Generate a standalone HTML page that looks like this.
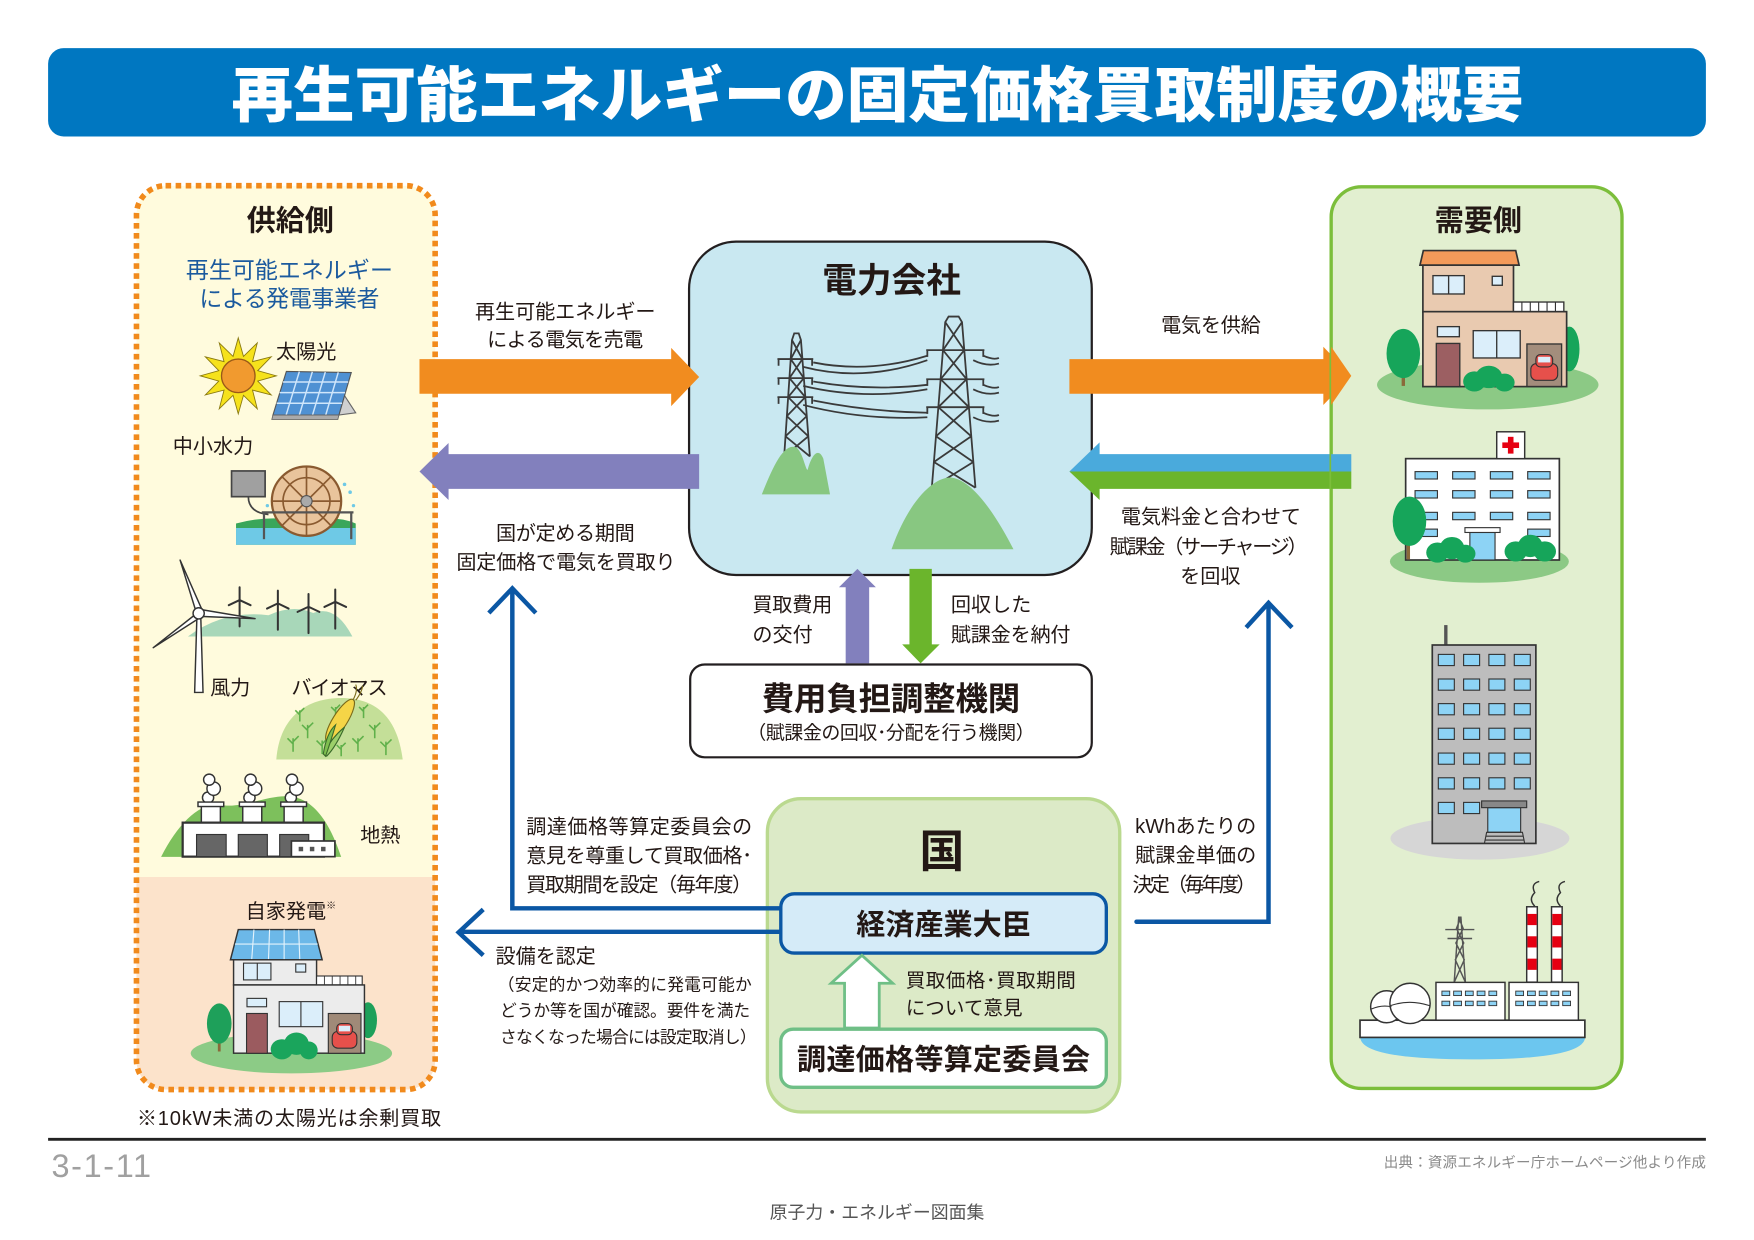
<!DOCTYPE html>
<html><head><meta charset="utf-8">
<style>
html,body{margin:0;padding:0;background:#fff;}
svg{display:block;}
text{font-family:"Liberation Sans","Noto Sans CJK JP",sans-serif;fill:#231815;}
</style></head><body>
<svg width="1754" height="1240" viewBox="0 0 1568 1108.5" xmlns="http://www.w3.org/2000/svg">
<rect x="0" y="0" width="1568" height="1108.5" fill="#fff"/>

<!-- Title -->
<rect x="43" y="43" width="1482" height="79" rx="14" fill="#0077c1"/>
<text x="207" y="104" font-size="54" font-weight="900" style="fill:#fff" textLength="1155" lengthAdjust="spacingAndGlyphs">再生可能エネルギーの固定価格買取制度の概要</text>

<!-- Supply side box -->
<rect x="122" y="166" width="267" height="808" rx="26" fill="#fffbdd"/>
<path d="M122,784 H389 V948 A26,26 0 0 1 363,974 H148 A26,26 0 0 1 122,948 Z" fill="#fce3cb"/>
<rect x="122" y="166" width="267" height="808" rx="26" fill="none" stroke="#f18a1c" stroke-width="5" stroke-dasharray="5 4"/>
<text x="259.5" y="206" font-size="26" font-weight="700" text-anchor="middle">供給側</text>
<text x="258.7" y="248.3" font-size="20.5" text-anchor="middle" style="fill:#1b5a9e" textLength="185">再生可能エネルギー</text>
<text x="258.7" y="273.8" font-size="20.5" text-anchor="middle" style="fill:#1b5a9e" textLength="161">による発電事業者</text>

<!-- Sun -->
<polygon points="213,302 217.66,318.6 230,306.55 225.73,323.27 242.44,319 230.39,331.34 247,336 230.39,340.66 242.44,353 225.73,348.73 230,365.44 217.66,353.39 213,370 208.34,353.39 196,365.44 200.27,348.73 183.56,353 195.61,340.66 179,336 195.61,331.34 183.56,319 200.27,323.27 196,306.56 208.34,318.61" fill="#f6e21c" stroke="#8a7a10" stroke-width="0.8"/>
<circle cx="213" cy="336" r="15" fill="#f19a2f" stroke="#9a5a18" stroke-width="1.2"/>
<text x="246.7" y="320.5" font-size="18">太陽光</text>
<!-- Solar panel -->
<polygon points="303,346 318,369 303,371" fill="#d0d0d0" stroke="#666" stroke-width="1"/>
<polygon points="256,332 314,333 303,371 244,371" fill="#4f91d3" stroke="#555" stroke-width="1"/>
<g stroke="#cfe6fb" stroke-width="1.3">
<line x1="253" y1="341.5" x2="311.3" y2="341.5"/><line x1="250" y1="351" x2="308.5" y2="351"/><line x1="247.3" y1="360.5" x2="305.8" y2="360.5"/>
<line x1="267.6" y1="332.2" x2="255.8" y2="371"/><line x1="279.2" y1="332.4" x2="267.6" y2="371"/><line x1="290.8" y1="332.6" x2="279.4" y2="371"/><line x1="302.4" y1="332.8" x2="291.2" y2="371"/>
</g>
<polygon points="244,371 303,371 302,375 243,375" fill="#aaa" stroke="#666" stroke-width="0.8"/>

<!-- Small hydro -->
<text x="154.4" y="404.8" font-size="18">中小水力</text>
<path d="M222,444 Q222,458 240,460" fill="none" stroke="#444" stroke-width="1.5"/>
<rect x="207" y="421" width="30" height="23" fill="#a0a0a0" stroke="#444" stroke-width="1.5"/>
<path d="M211,487 V468 Q240,460 270,466 Q300,460 318,468 V487 Z" fill="#3aa65a"/>
<rect x="211" y="472" width="107" height="15" fill="#6ec9e6"/>
<circle cx="274" cy="448" r="31" fill="#e9c49c" stroke="#8a5a30" stroke-width="2"/>
<circle cx="274" cy="448" r="21" fill="none" stroke="#8a5a30" stroke-width="1.5"/>
<g stroke="#8a5a30" stroke-width="1.5">
<line x1="274" y1="417" x2="274" y2="479"/><line x1="243" y1="448" x2="305" y2="448"/><line x1="252" y1="426" x2="296" y2="470"/><line x1="296" y1="426" x2="252" y2="470"/>
</g>
<circle cx="274" cy="448" r="5" fill="#aaa" stroke="#555"/>
<g stroke="#555" stroke-width="2" fill="none">
<line x1="234" y1="458" x2="316" y2="458"/><line x1="236" y1="458" x2="236" y2="482"/><line x1="314" y1="458" x2="314" y2="482"/>
</g>
<g fill="#6ec9e6"><circle cx="308" cy="433" r="1.6"/><circle cx="313" cy="440" r="1.6"/><circle cx="239" cy="452" r="1.5"/><circle cx="316" cy="452" r="1.5"/></g>

<!-- Wind -->
<path d="M168,569 Q200,545 240,550 Q262,540 280,548 Q300,540 315,569 Z" fill="#a8d7b9"/>
<g stroke="#333" stroke-width="1.8" fill="none" stroke-linecap="round">
<path d="M214.2,536.4 V560 M214.2,536.4 V525 M214.2,536.4 L224,541 M214.2,536.4 L204.5,541"/>
<path d="M248.4,539.4 V563 M248.4,539.4 V528 M248.4,539.4 L258,544 M248.4,539.4 L238.7,544"/>
<path d="M275.8,542.4 V566 M275.8,542.4 V531 M275.8,542.4 L285.5,547 M275.8,542.4 L266,547"/>
<path d="M299.7,538 V562 M299.7,538 V527 M299.7,538 L309.4,542.6 M299.7,538 L290,542.6"/>
</g>
<polygon points="174,619 176,552 179.5,552 181.5,619" fill="#fff" stroke="#333" stroke-width="1.3"/>
<g fill="#fff" stroke="#333" stroke-width="1.3" stroke-linejoin="round">
<polygon points="175,546 161,500.7 181,546"/>
<polygon points="180,545 228,553 179,551"/>
<polygon points="175,549 137,579 179,552"/>
</g>
<circle cx="177.6" cy="548.3" r="5" fill="#fff" stroke="#333" stroke-width="1.3"/>
<text x="187.8" y="620.8" font-size="18">風力</text>
<text x="260.5" y="620.8" font-size="18" textLength="86">バイオマス</text>

<!-- Biomass -->
<path d="M247,679 C250,640 275,624 305,624 C335,624 355,640 360,679 Z" fill="#c4df98"/>
<g stroke="#5fb04a" stroke-width="1.4" fill="none">
<path d="M262,672 v-12 m0,5 l-5,-5 m5,3 l5,-5"/><path d="M275,660 v-12 m0,5 l-5,-5 m5,3 l5,-5"/><path d="M288,674 v-12 m0,5 l-5,-5 m5,3 l5,-5"/>
<path d="M320,672 v-12 m0,5 l-5,-5 m5,3 l5,-5"/><path d="M335,660 v-12 m0,5 l-5,-5 m5,3 l5,-5"/><path d="M345,675 v-12 m0,5 l-5,-5 m5,3 l5,-5"/>
<path d="M300,642 v-10 m0,4 l-4,-4 m4,2 l4,-4"/><path d="M325,642 v-10 m0,4 l-4,-4 m4,2 l4,-4"/><path d="M268,645 v-10 m0,4 l-4,-4 m4,2 l4,-4"/><path d="M305,676 v-10 m0,4 l-4,-4 m4,2 l4,-4"/>
</g>
<ellipse cx="304" cy="644" rx="22" ry="6.5" transform="rotate(-58 304 644)" fill="#f5d547" stroke="#7a6a1a" stroke-width="1"/>
<path d="M289,674 Q296,660 308,650 Q300,668 292,676 Z" fill="#9ccf6a" stroke="#3a6a2a" stroke-width="1"/>
<path d="M289,674 Q292,655 300,648 Q295,665 291,676 Z" fill="#7fbf50" stroke="#3a6a2a" stroke-width="1"/>
<path d="M316,625 Q320,617 318,612 M318,626 Q324,618 324,613" stroke="#7a6a1a" stroke-width="1" fill="none"/>

<!-- Geothermal -->
<path d="M144,766 C160,735 180,715 200,720 C220,722 240,710 260,712 C285,715 298,745 305,766 Z" fill="#7dc05c"/>
<g fill="#fff" stroke="#333" stroke-width="1.3">
<circle cx="186" cy="713" r="5"/><circle cx="191" cy="705" r="6"/><circle cx="187" cy="697" r="5"/>
<circle cx="223" cy="713" r="5"/><circle cx="228" cy="705" r="6"/><circle cx="224" cy="697" r="5"/>
<circle cx="260" cy="713" r="5"/><circle cx="265" cy="705" r="6"/><circle cx="261" cy="697" r="5"/>
<rect x="180" y="720" width="17" height="16"/><rect x="177" y="717" width="23" height="4"/>
<rect x="217" y="720" width="17" height="16"/><rect x="214" y="717" width="23" height="4"/>
<rect x="254" y="720" width="17" height="16"/><rect x="251" y="717" width="23" height="4"/>
<rect x="163.3" y="735.4" width="126.3" height="30.4" stroke-width="2"/>
</g>
<g fill="#666" stroke="#333" stroke-width="1"><rect x="175.7" y="746" width="26.5" height="19.8"/><rect x="213" y="746" width="26" height="19.8"/><rect x="250" y="746" width="26" height="19.8"/></g>
<rect x="260.5" y="751.8" width="38.9" height="14" fill="#fff" stroke="#333" stroke-width="1.5"/>
<g fill="#555"><rect x="267" y="757" width="4" height="4"/><rect x="277" y="757" width="4" height="4"/><rect x="287" y="757" width="4" height="4"/></g>
<text x="322" y="752.8" font-size="18">地熱</text>

<!-- Self generation house -->
<text x="219.6" y="820.8" font-size="18">自家発電<tspan font-size="9" dy="-8">※</tspan></text>
<ellipse cx="260.5" cy="941.6" rx="90" ry="18" fill="#8ccb86"/>
<path d="M196,940 V925" stroke="#8a6a3a" stroke-width="2.5"/>
<ellipse cx="196" cy="915" rx="11" ry="18" fill="#1ea05a"/>
<ellipse cx="329" cy="912" rx="8" ry="16" fill="#1ea05a"/>
<polygon points="213,831 281,831 288,858 206,858" fill="#6cb8e8" stroke="#333" stroke-width="1.3"/>
<g stroke="#e4f3fc" stroke-width="1"><line x1="210" y1="844" x2="284" y2="844"/><line x1="227" y1="831" x2="225" y2="858"/><line x1="241" y1="831" x2="240" y2="858"/><line x1="254" y1="831" x2="254" y2="858"/><line x1="267" y1="831" x2="268" y2="858"/></g>
<rect x="208.8" y="858" width="74.2" height="22.5" fill="#ececec" stroke="#333" stroke-width="1.3"/>
<rect x="217.7" y="861" width="24.5" height="15" fill="#dbeefa" stroke="#333" stroke-width="1"/>
<line x1="230" y1="861" x2="230" y2="876" stroke="#333" stroke-width="1"/>
<rect x="264.4" y="861.7" width="8.9" height="7.3" fill="#dbeefa" stroke="#333" stroke-width="1"/>
<rect x="283" y="872.5" width="40.8" height="8" fill="#fff" stroke="#333" stroke-width="1"/>
<g stroke="#333" stroke-width="0.8"><line x1="290" y1="872.5" x2="290" y2="880.5"/><line x1="297" y1="872.5" x2="297" y2="880.5"/><line x1="304" y1="872.5" x2="304" y2="880.5"/><line x1="311" y1="872.5" x2="311" y2="880.5"/><line x1="318" y1="872.5" x2="318" y2="880.5"/></g>
<rect x="208.8" y="880.5" width="117" height="61" fill="#ececec" stroke="#333" stroke-width="1.3"/>
<rect x="220.8" y="892.5" width="17.5" height="7.5" fill="#dbeefa" stroke="#333" stroke-width="1"/>
<rect x="220.4" y="906" width="18.6" height="35.6" fill="#9b5b5f" stroke="#333" stroke-width="1"/>
<rect x="249.6" y="895.4" width="38.9" height="22.4" fill="#dbeefa" stroke="#333" stroke-width="1"/>
<line x1="269" y1="895.4" x2="269" y2="917.8" stroke="#333" stroke-width="1"/>
<rect x="293.5" y="906" width="29.2" height="35.6" fill="#a08a78" stroke="#333" stroke-width="1"/>
<rect x="297" y="922" width="22" height="15" rx="5" fill="#e6504b" stroke="#333" stroke-width="1"/>
<rect x="301" y="915" width="14" height="10" rx="4" fill="#e6504b" stroke="#333" stroke-width="1"/>
<rect x="303" y="917" width="10" height="5" fill="#dbeefa"/>
<g fill="#1aa55c"><ellipse cx="252" cy="938" rx="10" ry="9"/><ellipse cx="265" cy="933" rx="11" ry="10"/><ellipse cx="276" cy="939" rx="8" ry="8"/></g>
<text x="122.4" y="1005.8" font-size="18" textLength="272">※10kW未満の太陽光は余剰買取</text>

<!-- Electric company box -->
<rect x="616" y="216" width="360" height="298" rx="42" fill="#c9e8f1" stroke="#231f20" stroke-width="2"/>
<text x="797" y="261.5" font-size="31" font-weight="700" text-anchor="middle">電力会社</text>
<!-- towers -->
<g stroke="#3a3a3a" stroke-width="1.6" fill="none">
<path d="M701,408 L708,304 L710,298 L714,298 L716,304 L724,408"/>
<path d="M708,304 L717.3,321 M716,304 L706.9,321 M706.9,321 L718.6,338 M717.3,321 L705.7,338 M705.7,338 L719.9,355 M718.6,338 L704.6,355 M704.6,355 L721.2,372 M719.9,355 L703.4,372 M703.4,372 L722.6,390 M721.2,372 L702.2,390 M702.2,390 L724,408 M722.6,390 L701,408"/>
<path d="M695,321 H727 M696,321 v6 M726,321 v6 M695,338 H727 M696,338 v6 M726,338 v6 M695,355 H727 M696,355 v6 M726,355 v6"/>
<path d="M833,436 L845,288 L848,283 L857,283 L860,288 L872,436"/>
<path d="M845,288 L862,313 M860,288 L843,313 M843,313 L864.1,339 M862,313 L840.9,339 M840.9,339 L866.2,364 M864.1,339 L838.8,364 M838.8,364 L868.3,390 M866.2,364 L836.7,390 M836.7,390 L870.1,413 M868.3,390 L834.9,413 M834.9,413 L872,436 M870.1,413 L833,436"/>
<path d="M828,313 H880 M829,313 v6 M879,313 v6 M828,339 H880 M829,339 v6 M879,339 v6 M828,364 H880 M829,364 v6 M879,364 v6"/>
<path d="M727,324 Q777,334 829,318 M718,328 Q772,342 829,322"/>
<path d="M727,341 Q777,350 829,344 M718,345 Q772,358 829,348"/>
<path d="M727,358 Q777,368 829,369 M718,362 Q772,376 829,373"/>
<path d="M879,318 Q888,322 893,320 M870,322 Q882,328 893,325 M879,344 Q888,348 893,346 M870,348 Q882,354 893,351 M879,369 Q888,373 893,371 M870,373 Q882,379 893,376"/>
</g>
<path d="M681,442 C690,420 700,395 712,400 C718,405 720,420 722,420 C726,405 732,400 736,410 L742,442 Z" fill="#88c781"/>
<path d="M797,491 C815,440 840,425 851,427 C870,430 890,460 906,491 Z" fill="#88c781"/>

<!-- Horizontal arrows -->
<polygon points="375,321 600,321 600,311 625,337 600,363 600,352 375,352" fill="#f18c1f"/>
<polygon points="625,406 401,406 401,396 375,421.5 401,447 401,437 625,437" fill="#8280bd"/>
<polygon points="956,321 1183,321 1183,310 1208,336 1183,362 1183,352 956,352" fill="#f18c1f"/>
<polygon points="1208,421.5 956,421.5 983,447 983,437 1208,437" fill="#6bb52c"/>
<polygon points="1208,406 983,406 983,395.5 956,421.5 1208,421.5" fill="#4aaadc"/>

<text x="424.6" y="284.8" font-size="18" textLength="161.4">再生可能エネルギー</text>
<text x="435.5" y="309.8" font-size="18" textLength="139.5">による電気を売電</text>
<text x="443.4" y="482.8" font-size="18" textLength="124">国が定める期間</text>
<text x="408" y="508.8" font-size="18" textLength="196">固定価格で電気を買取り</text>
<text x="1082.5" y="296.8" font-size="18" text-anchor="middle" textLength="89">電気を供給</text>
<text x="1082.5" y="468" font-size="18" text-anchor="middle" textLength="161">電気料金と合わせて</text>
<text x="1080.5" y="494.8" font-size="18" text-anchor="middle" textLength="177">賦課金（サーチャージ）</text>
<text x="1082" y="521" font-size="18" text-anchor="middle">を回収</text>

<!-- vertical arrows -->
<polygon points="756,593 756,525 750,525 766.5,508.6 783,525 777,525 777,593" fill="#8280bd"/>
<polygon points="813,508.6 833,508.6 833,576 840,576 823,593 806.5,576 813,576" fill="#6bb52c"/>
<text x="672.6" y="546.8" font-size="18" textLength="71.4">買取費用</text>
<text x="672.6" y="573.3" font-size="18">の交付</text>
<text x="850" y="546.8" font-size="18">回収した</text>
<text x="850" y="573.3" font-size="18" textLength="107">賦課金を納付</text>

<!-- Cost adjustment box -->
<rect x="617" y="594" width="359" height="83" rx="13" fill="#fff" stroke="#231f20" stroke-width="2"/>
<text x="796.5" y="634.5" font-size="29" font-weight="700" text-anchor="middle" textLength="231">費用負担調整機関</text>
<text x="796.5" y="660.5" font-size="17" text-anchor="middle" textLength="257">（賦課金の回収･分配を行う機関）</text>

<!-- Country box -->
<rect x="686" y="714" width="315" height="280" rx="30" fill="#dceac7" stroke="#bad98f" stroke-width="3"/>
<text x="842" y="775" font-size="40" font-weight="700" text-anchor="middle">国</text>

<!-- Blue connectors -->
<g stroke="#0b57a4" stroke-width="4" fill="none" stroke-linejoin="miter">
<path d="M700,812 H458 V528"/>
<path d="M437,548 L458,526 L479,548"/>
<path d="M700,833 H412"/>
<path d="M432,813 L410,833.5 L432,854"/>
<path d="M1016,824 H1134 V541" stroke-linecap="round"/>
<path d="M1114,561 L1134,539 L1155,561"/>
</g>

<rect x="698" y="799" width="291" height="53" rx="12" fill="#d5ebf8" stroke="#0b57a4" stroke-width="3"/>
<text x="843.5" y="835.5" font-size="26" font-weight="700" text-anchor="middle" textLength="156">経済産業大臣</text>
<polygon points="755,919 755,879 743,879 770.5,854 798,879 786,879 786,919" fill="#fff" stroke="#6fbf86" stroke-width="2.5"/>
<text x="809.7" y="882.5" font-size="17.5" textLength="152">買取価格･買取期間</text>
<text x="809.7" y="906.8" font-size="17.5">について意見</text>
<rect x="698" y="920" width="291" height="52" rx="11" fill="#fff" stroke="#6fbf86" stroke-width="3"/>
<text x="843.5" y="956" font-size="26" font-weight="700" text-anchor="middle" textLength="262">調達価格等算定委員会</text>

<text x="470.4" y="745" font-size="18" textLength="202">調達価格等算定委員会の</text>
<text x="470.4" y="771" font-size="18" textLength="202">意見を尊重して買取価格･</text>
<text x="470.4" y="797" font-size="18" textLength="202">買取期間を設定（毎年度）</text>
<text x="443" y="861" font-size="18" textLength="89.6">設備を認定</text>
<text x="445" y="885.4" font-size="15" textLength="227">（安定的かつ効率的に発電可能か</text>
<text x="447" y="908.6" font-size="15" textLength="223.6">どうか等を国が確認。要件を満た</text>
<text x="447" y="932.4" font-size="15" textLength="229.4">さなくなった場合には設定取消し）</text>
<text x="1014.7" y="744.8" font-size="18" textLength="108.3">kWhあたりの</text>
<text x="1014.7" y="770.8" font-size="18" textLength="108.3">賦課金単価の</text>
<text x="1012.4" y="796.8" font-size="18" textLength="110.6">決定（毎年度）</text>

<!-- Demand side box -->
<rect x="1190" y="167" width="260" height="806" rx="27" fill="#e2efd0" stroke="#7cbe3b" stroke-width="3"/>
<polygon points="1190,310 1208,336 1190,362" fill="#f18c1f"/>
<rect x="1190" y="406" width="18" height="15.5" fill="#4aaadc"/>
<rect x="1190" y="421.5" width="18" height="15.5" fill="#6bb52c"/>
<text x="1321.6" y="206" font-size="26" font-weight="700" text-anchor="middle">需要側</text>

<!-- house -->
<ellipse cx="1330" cy="344" rx="99" ry="22" fill="#8cc985"/>
<path d="M1254.5,345 V325" stroke="#8a6a3a" stroke-width="3"/>
<ellipse cx="1254.5" cy="316" rx="15" ry="22" fill="#16a55a"/>
<ellipse cx="1403" cy="312" rx="9" ry="20" fill="#16a55a"/>
<rect x="1272" y="237" width="81" height="42" fill="#e9cab0" stroke="#333" stroke-width="1.5"/>
<polygon points="1269.4,237 1272.4,224 1355,224 1358,237" fill="#f39a5a" stroke="#333" stroke-width="1.5"/>
<rect x="1281" y="246.4" width="28" height="16.4" fill="#dbeefa" stroke="#333" stroke-width="1.2"/>
<line x1="1295" y1="246.4" x2="1295" y2="262.8" stroke="#333" stroke-width="1.2"/>
<rect x="1334" y="247" width="9" height="8" fill="#dbeefa" stroke="#333" stroke-width="1.2"/>
<rect x="1353" y="270" width="45" height="9" fill="#fff" stroke="#333" stroke-width="1.2"/>
<g stroke="#333" stroke-width="1"><line x1="1360.5" y1="270" x2="1360.5" y2="279"/><line x1="1368" y1="270" x2="1368" y2="279"/><line x1="1375.5" y1="270" x2="1375.5" y2="279"/><line x1="1383" y1="270" x2="1383" y2="279"/><line x1="1390.5" y1="270" x2="1390.5" y2="279"/></g>
<rect x="1272" y="278.6" width="128.5" height="67" fill="#e9cab0" stroke="#333" stroke-width="1.5"/>
<rect x="1285" y="292" width="19.6" height="9" fill="#dbeefa" stroke="#333" stroke-width="1.2"/>
<rect x="1284" y="307" width="21" height="38.6" fill="#9c5f62" stroke="#333" stroke-width="1.2"/>
<rect x="1317" y="295.6" width="42" height="24.4" fill="#dbeefa" stroke="#333" stroke-width="1.2"/>
<line x1="1338" y1="295.6" x2="1338" y2="320" stroke="#333" stroke-width="1.2"/>
<rect x="1365" y="307.5" width="31" height="38" fill="#a38d7c" stroke="#333" stroke-width="1.2"/>
<rect x="1368.5" y="325" width="24" height="15" rx="5" fill="#e6504b" stroke="#333" stroke-width="1"/>
<rect x="1373" y="317" width="15" height="11" rx="4" fill="#e6504b" stroke="#333" stroke-width="1"/>
<rect x="1375" y="319" width="11" height="5" fill="#dbeefa"/>
<g fill="#16a55a"><ellipse cx="1318" cy="341" rx="10" ry="9"/><ellipse cx="1331" cy="337" rx="12" ry="10"/><ellipse cx="1345" cy="342" rx="9" ry="8"/></g>

<!-- hospital -->
<ellipse cx="1322.5" cy="502" rx="80" ry="19" fill="#8cc985"/>
<rect x="1256.6" y="410" width="137.4" height="90.6" fill="#fff" stroke="#333" stroke-width="1.5"/>
<rect x="1338" y="386" width="25" height="24" fill="#fff" stroke="#333" stroke-width="1.3"/>
<rect x="1348" y="390.5" width="5" height="15" fill="#e60012"/><rect x="1343" y="395.5" width="15" height="5" fill="#e60012"/>
<g fill="#8dd3f5" stroke="#333" stroke-width="1">
<rect x="1265" y="421.6" width="20" height="6.6"/><rect x="1298.6" y="421.6" width="20" height="6.6"/><rect x="1332.3" y="421.6" width="20" height="6.6"/><rect x="1365.7" y="421.6" width="20" height="6.6"/>
<rect x="1265" y="438.6" width="20" height="6.6"/><rect x="1298.6" y="438.6" width="20" height="6.6"/><rect x="1332.3" y="438.6" width="20" height="6.6"/><rect x="1365.7" y="438.6" width="20" height="6.6"/>
<rect x="1265" y="458" width="20" height="6.6"/><rect x="1298.6" y="458" width="20" height="6.6"/><rect x="1332.3" y="458" width="20" height="6.6"/><rect x="1365.7" y="458" width="20" height="6.6"/>
<rect x="1265" y="473" width="20" height="6.6"/><rect x="1365.7" y="473" width="20" height="6.6"/>
<rect x="1314" y="476" width="22.5" height="24.6"/>
</g>
<rect x="1309.6" y="471.7" width="31.4" height="4.3" fill="#fff" stroke="#333" stroke-width="1"/>
<path d="M1259,500 V478" stroke="#8a6a3a" stroke-width="3"/>
<ellipse cx="1260" cy="466" rx="15" ry="22" fill="#16a55a"/>
<g fill="#16a55a"><ellipse cx="1285" cy="494" rx="10" ry="9"/><ellipse cx="1298" cy="490" rx="11" ry="10"/><ellipse cx="1310" cy="495" rx="9" ry="8"/><ellipse cx="1355" cy="493" rx="10" ry="9"/><ellipse cx="1368" cy="488" rx="11" ry="10"/><ellipse cx="1381" cy="493" rx="10" ry="9"/></g>

<!-- office building -->
<ellipse cx="1323" cy="749.5" rx="80" ry="19" fill="#d6d6d6"/>
<rect x="1291" y="558.8" width="3" height="18" fill="#555"/>
<rect x="1280.4" y="576.6" width="92.6" height="177.4" fill="#bdbdbd" stroke="#333" stroke-width="1.5"/>
<g fill="#8dd3f5" stroke="#333" stroke-width="1">
<rect x="1285.8" y="585" width="14.3" height="10"/><rect x="1308.4" y="585" width="14.3" height="10"/><rect x="1331" y="585" width="14.3" height="10"/><rect x="1353.7" y="585" width="14.3" height="10"/>
<rect x="1285.8" y="607" width="14.3" height="10"/><rect x="1308.4" y="607" width="14.3" height="10"/><rect x="1331" y="607" width="14.3" height="10"/><rect x="1353.7" y="607" width="14.3" height="10"/>
<rect x="1285.8" y="629" width="14.3" height="10"/><rect x="1308.4" y="629" width="14.3" height="10"/><rect x="1331" y="629" width="14.3" height="10"/><rect x="1353.7" y="629" width="14.3" height="10"/>
<rect x="1285.8" y="651" width="14.3" height="10"/><rect x="1308.4" y="651" width="14.3" height="10"/><rect x="1331" y="651" width="14.3" height="10"/><rect x="1353.7" y="651" width="14.3" height="10"/>
<rect x="1285.8" y="673.2" width="14.3" height="10"/><rect x="1308.4" y="673.2" width="14.3" height="10"/><rect x="1331" y="673.2" width="14.3" height="10"/><rect x="1353.7" y="673.2" width="14.3" height="10"/>
<rect x="1285.8" y="695.3" width="14.3" height="10"/><rect x="1308.4" y="695.3" width="14.3" height="10"/><rect x="1331" y="695.3" width="14.3" height="10"/><rect x="1353.7" y="695.3" width="14.3" height="10"/>
<rect x="1285.8" y="717.3" width="14.3" height="10"/><rect x="1308.4" y="717.3" width="14.3" height="10"/>
<rect x="1330" y="722" width="29.4" height="22"/>
</g>
<rect x="1324.5" y="716" width="40.3" height="6" fill="#888" stroke="#333" stroke-width="1"/>
<g stroke="#333" stroke-width="1" fill="none"><path d="M1327,754 L1329,744 H1361 L1363,754 M1328,747.5 H1362 M1327.5,751 H1362.5"/></g>

<!-- factory -->
<path d="M1216,927 H1417 Q1417,947 1316,947 Q1216,947 1216,927 Z" fill="#6cc6ef"/>
<g fill="#fff" stroke="#333" stroke-width="1.3">
<path d="M1372,810 Q1366,804 1372,798 Q1368,790 1376,788 M1395,810 Q1389,804 1395,798 Q1391,790 1399,788" fill="none"/>
<rect x="1364.8" y="810.6" width="9.5" height="67.4"/>
<rect x="1387" y="810.6" width="9.5" height="67.4"/>
</g>
<g fill="#e60012"><rect x="1365.5" y="817" width="8.2" height="10"/><rect x="1365.5" y="837" width="8.2" height="10"/><rect x="1365.5" y="857" width="8.2" height="10"/><rect x="1387.7" y="817" width="8.2" height="10"/><rect x="1387.7" y="837" width="8.2" height="10"/><rect x="1387.7" y="857" width="8.2" height="10"/></g>
<g stroke="#555" stroke-width="1.3" fill="none">
<path d="M1300,878 L1304,820 L1306,820 L1310,878 M1300,878 L1309,858 L1301.5,843 L1308,830 L1304,820 M1310,878 L1301,858 L1308.5,843 L1302,830 L1306,820 M1292,831 H1318 M1294,839 H1316"/>
</g>
<rect x="1215.8" y="912" width="201" height="15.4" fill="#fff" stroke="#333" stroke-width="1.5"/>
<circle cx="1239.6" cy="900" r="14.3" fill="#fff" stroke="#333" stroke-width="1.3"/>
<circle cx="1260.5" cy="897" r="18" fill="#fff" stroke="#333" stroke-width="1.3"/>
<path d="M1243,899 Q1260,893 1278,899 M1226,902 Q1235,898 1244,900" fill="none" stroke="#333" stroke-width="1"/>
<rect x="1283.7" y="878.2" width="61.7" height="33.8" fill="#fff" stroke="#333" stroke-width="1.3"/>
<rect x="1349" y="878.2" width="62" height="33.8" fill="#fff" stroke="#333" stroke-width="1.3"/>
<g fill="#8dd3f5" stroke="#333" stroke-width="0.8">
<rect x="1289" y="886" width="7" height="4"/><rect x="1299.5" y="886" width="7" height="4"/><rect x="1310" y="886" width="7" height="4"/><rect x="1320.5" y="886" width="7" height="4"/><rect x="1331" y="886" width="7" height="4"/>
<rect x="1289" y="895" width="7" height="4"/><rect x="1299.5" y="895" width="7" height="4"/><rect x="1310" y="895" width="7" height="4"/><rect x="1320.5" y="895" width="7" height="4"/><rect x="1331" y="895" width="7" height="4"/>
<rect x="1355" y="886" width="7" height="4"/><rect x="1365.5" y="886" width="7" height="4"/><rect x="1376" y="886" width="7" height="4"/><rect x="1386.5" y="886" width="7" height="4"/><rect x="1397" y="886" width="7" height="4"/>
<rect x="1355" y="895" width="7" height="4"/><rect x="1365.5" y="895" width="7" height="4"/><rect x="1376" y="895" width="7" height="4"/><rect x="1386.5" y="895" width="7" height="4"/><rect x="1397" y="895" width="7" height="4"/>
</g>

<!-- Footer -->
<line x1="43" y1="1018.5" x2="1525" y2="1018.5" stroke="#222" stroke-width="2.5"/>
<text x="46" y="1052" font-size="29" style="fill:#a0a0a0" textLength="89">3-1-11</text>
<text x="1525" y="1043.5" font-size="13" text-anchor="end" style="fill:#8a8a8a" textLength="288">出典：資源エネルギー庁ホームページ他より作成</text>
<text x="784" y="1089.5" font-size="16" text-anchor="middle" style="fill:#555" textLength="192">原子力・エネルギー図面集</text>
</svg>
</body></html>
